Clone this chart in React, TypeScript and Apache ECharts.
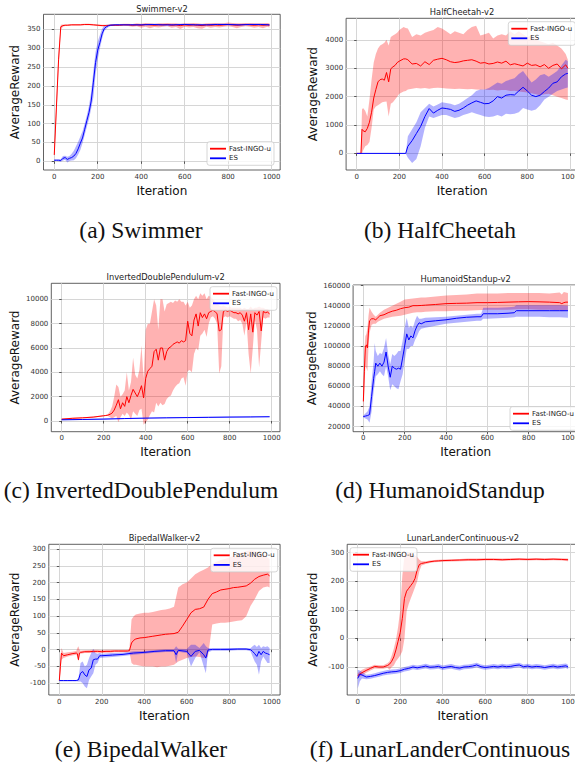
import React, { useEffect, useRef } from "react";
import * as echarts from "echarts";

// ---------------- tick labels ----------------
const X_TICKS = [0, 200, 400, 600, 800, 1000];
const aYTicks = [0, 50, 100, 150, 200, 250, 300, 350];
const bYTicks = [0, 1000, 2000, 3000, 4000];
const cYTicks = [0, 2000, 4000, 6000, 8000, 10000];
const dYTicks = [20000, 40000, 60000, 80000, 100000, 120000, 140000, 160000];
const eYTicks = [-100, -50, 0, 50, 100, 150, 200, 250, 300];
const fYTicks = [-100, 0, 100, 200, 300];

const titles = [
  "Swimmer-v2",
  "HalfCheetah-v2",
  "InvertedDoublePendulum-v2",
  "HumanoidStandup-v2",
  "BipedalWalker-v2",
  "LunarLanderContinuous-v2",
];
const captions = [
  "(a) Swimmer",
  "(b) HalfCheetah",
  "(c) InvertedDoublePendulum",
  "(d) HumanoidStandup",
  "(e) BipedalWalker",
  "(f) LunarLanderContinuous",
];
const seriesNames = ["Fast-INGO-u", "ES"];

// ---------------- (a) Swimmer ----------------
const aRedIter = [0, 10, 20, 30, 40, 50, 60, 80, 100, 120, 140, 160, 180, 200, 220, 240, 260, 280, 300, 320, 340, 360, 380, 400, 420, 440, 460, 480, 500, 520, 540, 560, 580, 600, 620, 640, 660, 680, 700, 720, 740, 760, 780, 800, 820, 840, 860, 880, 900, 920, 940, 960, 980, 990];
const aRedMean = [17, 144, 271, 357, 360, 361, 361, 362, 362, 362, 363, 363, 362, 361, 360, 360, 361, 361, 361, 362, 362, 361, 362, 361, 363, 362, 361, 362, 362, 363, 361, 362, 360, 362, 361, 362, 361, 360, 362, 361, 362, 361, 362, 363, 362, 361, 362, 363, 362, 361, 362, 361, 362, 361];
const aRedLo = [8, 120, 250, 350, 357, 359, 359, 360, 360, 360, 361, 361, 360, 359, 358, 358, 359, 359, 359, 360, 359, 357, 358, 354, 357, 353, 356, 355, 357, 358, 354, 356, 351, 357, 355, 356, 353, 352, 357, 354, 356, 355, 357, 358, 356, 353, 356, 358, 357, 354, 356, 353, 357, 355];
const aRedHi = [25, 170, 290, 362, 363, 363, 363, 364, 364, 364, 365, 365, 364, 363, 362, 362, 363, 363, 364, 365, 365, 364, 366, 365, 367, 366, 365, 366, 366, 367, 366, 366, 365, 366, 366, 367, 366, 365, 366, 366, 367, 366, 366, 368, 367, 366, 366, 367, 367, 366, 366, 366, 367, 366];
const aBlueIter = [0, 10, 20, 30, 40, 50, 60, 70, 80, 90, 100, 110, 120, 130, 140, 150, 160, 170, 180, 190, 200, 210, 220, 230, 240, 250, 260, 280, 300, 350, 400, 450, 500, 550, 600, 650, 700, 750, 800, 850, 900, 950, 990];
const aBlueMean = [3, 3, 3, 2, 8, 10, 5, 8, 10, 14, 21, 33, 48, 62, 85, 108, 130, 160, 210, 262, 295, 315, 338, 352, 357, 360, 361, 362, 362, 362, 362, 363, 362, 362, 363, 362, 362, 363, 363, 362, 363, 363, 362];
const aBlueLo = [1, 1, 0, -1, 2, 4, -3, 1, 2, 3, 8, 18, 30, 48, 70, 92, 112, 140, 170, 230, 270, 300, 325, 345, 352, 356, 359, 360, 360, 360, 360, 361, 360, 360, 361, 360, 360, 361, 361, 360, 361, 361, 360];
const aBlueHi = [5, 5, 5, 6, 14, 15, 12, 14, 20, 28, 40, 52, 66, 80, 100, 122, 148, 185, 240, 290, 318, 335, 352, 360, 362, 363, 364, 364, 364, 364, 364, 365, 364, 364, 365, 364, 364, 365, 365, 364, 365, 365, 364];

// ---------------- (b) HalfCheetah ----------------
const bRedIter = [0, 10, 20, 25, 30, 40, 50, 60, 70, 80, 90, 100, 110, 120, 130, 140, 150, 160, 170, 180, 190, 200, 220, 230, 240, 260, 280, 300, 320, 340, 360, 380, 400, 420, 440, 460, 480, 500, 520, 540, 560, 580, 600, 620, 640, 660, 680, 700, 720, 740, 760, 780, 800, 820, 840, 860, 880, 900, 920, 940, 960, 980, 990];
const bRedMean = [0, 0, 0, 850, 800, 760, 880, 1100, 1450, 1950, 2250, 2520, 2600, 2620, 2580, 2850, 2520, 2980, 3050, 3100, 3200, 3250, 3330, 3330, 3300, 3150, 3170, 3080, 3230, 3130, 3280, 3320, 3350, 3300, 3230, 3200, 3220, 3260, 3280, 3300, 3250, 3180, 3200, 3150, 3170, 3220, 3180, 3250, 3120, 3160, 3120, 3080, 3180, 3100, 3120, 3050, 3130, 3000, 3100, 3150, 2980, 3120, 3000];
const bRedLo = [0, 0, 0, 0, 100, 250, 300, 400, 900, 1550, 1650, 1700, 1750, 1800, 1820, 1830, 1300, 1750, 1800, 1900, 2000, 2100, 2180, 2200, 2250, 2280, 2300, 2290, 2300, 2280, 2300, 2310, 2300, 2290, 2280, 2270, 2280, 2270, 2260, 2270, 2250, 2240, 2250, 2230, 2240, 2220, 2230, 2230, 2200, 2210, 2180, 2160, 2150, 2120, 2080, 2050, 2080, 2100, 2050, 2000, 1950, 1900, 1880];
const bRedHi = [0, 0, 0, 1550, 1600, 1500, 1300, 1900, 2600, 3200, 3500, 3700, 3800, 3850, 3900, 4000, 3800, 4100, 4150, 4200, 4250, 4350, 4450, 4420, 4400, 4100, 4200, 4150, 4250, 4300, 4350, 4450, 4400, 4300, 4200, 4300, 4250, 4200, 4350, 4450, 4500, 4150, 4200, 4250, 4050, 4150, 4200, 4150, 4300, 4200, 4300, 4200, 4100, 4150, 4000, 3950, 3900, 3850, 3900, 3800, 3700, 3500, 3300];
const bBlueIter = [0, 230, 240, 260, 280, 300, 320, 340, 360, 380, 400, 420, 440, 460, 480, 500, 520, 540, 560, 580, 600, 620, 640, 660, 680, 700, 720, 740, 760, 780, 800, 820, 840, 860, 880, 900, 920, 940, 960, 980, 990];
const bBlueMean = [0, 0, 250, 450, 700, 950, 1300, 1580, 1420, 1520, 1600, 1580, 1550, 1480, 1520, 1600, 1700, 1780, 1850, 1800, 1750, 1760, 1850, 2000, 1950, 2050, 2070, 2060, 2200, 2330, 2200, 2050, 2000, 2050, 2180, 2300, 2470, 2520, 2700, 2800, 2820];
const bBlueLo = [0, 0, -150, -340, -200, 250, 900, 1300, 1250, 1300, 1350, 1350, 1300, 1250, 1280, 1350, 1400, 1450, 1400, 1350, 1300, 1280, 1300, 1350, 1300, 1400, 1380, 1400, 1450, 1600, 1550, 1500, 1550, 1700, 1900, 2000, 2100, 2200, 2250, 2300, 2320];
const bBlueHi = [0, 0, 600, 850, 1100, 1450, 1600, 1750, 1650, 1720, 1800, 1780, 1750, 1700, 1750, 1850, 1950, 2050, 2200, 2250, 2250, 2300, 2400, 2500, 2450, 2550, 2600, 2650, 2800, 2900, 2700, 2500, 2600, 2750, 2800, 2700, 2800, 2900, 3100, 3300, 3250];

// ---------------- (c) InvertedDoublePendulum ----------------
const cRedIter = [0, 50, 100, 150, 200, 210, 220, 230, 240, 250, 260, 270, 280, 290, 300, 310, 320, 330, 340, 350, 360, 370, 380, 390, 400, 410, 420, 430, 440, 450, 460, 470, 480, 490, 500, 510, 520, 530, 540, 550, 560, 570, 580, 590, 600, 610, 620, 630, 640, 650, 660, 670, 680, 690, 700, 710, 720, 730, 740, 750, 760, 770, 780, 790, 800, 810, 820, 830, 840, 850, 860, 870, 880, 890, 900, 910, 920, 930, 940, 950, 960, 970, 980, 990];
const cRedMean = [150, 220, 260, 320,
  430, 450, 480, 550, 650, 900, 1300, 1750, 1000, 1500,
  1200, 2000, 1500, 2100, 2600, 2300, 2000, 2400, 2900, 1900,
  3500, 4100, 4300, 4500, 5700, 5900, 5000, 6000, 6000, 5000,
  5700, 6000, 6100, 6300, 6400, 6500, 6400, 6600, 6500, 6600,
  8200, 7200, 7000, 8300, 8800, 7800, 8900, 8500, 8800, 8400,
  8900, 9000, 9100, 9000, 8800, 7400, 7500, 9000, 9100, 9000,
  9100, 9000, 8900, 8900, 8800, 8900, 8700, 8200, 8900, 7500,
  8800, 7300, 8900, 8700, 9000, 7400, 9000, 8900, 8950, 8800];
const cRedLo = [100, 180, 220, 270,
  380, 400, 420, 300, 200, 300, 400, -100, 300, 600,
  400, 700, 500, 100, 800, 600, 400, 900, 1000, -300,
  -100, 100, 500, 800, 700, 1500, 1200, 1500, 1300, 1400,
  1800, 2000, 2100, 2500, 2800, 3000, 3100, 3500, 3600, 2900,
  4100, 4200, 4000, 5500, 6000, 5800, 7000, 7200, 7500, 6900,
  8000, 8500, 8600, 8400, 8000, 3900, 4500, 8500, 8600, 8500,
  8600, 8500, 8400, 8400, 8200, 8300, 8000, 7000, 8200, 5500,
  3900, 6000, 8300, 7500, 4400, 6500, 8500, 8400, 8500, 8500];
const cRedHi = [200, 260, 300, 370,
  480, 500, 560, 800, 1200, 2000, 3000, 2800, 2000, 2200,
  2500, 4000, 2500, 3200, 5200, 3800, 3500, 4200, 6200, 3500,
  7500, 8000, 8000, 9000, 10000, 9500, 7500, 10000, 10000, 9000,
  9600, 9700, 9800, 9700, 9900, 9800, 10000, 9800, 9800, 9500,
  9800, 9300, 9500, 10000, 10300, 10000, 10500, 10300, 10500, 10000,
  10300, 10200, 10000, 9800, 9700, 9500, 9400, 9500, 9400, 9300,
  9400, 9300, 9300, 9300, 9300, 9300, 9200, 9300, 9200, 9200,
  9400, 9200, 9300, 9300, 9400, 9300, 9300, 9200, 9200, 9100];
const cBlueIter = [0, 100, 200, 300, 400, 500, 600, 700, 800, 900, 990];
const cBlueMean = [100, 125, 155, 200, 235, 260, 280, 300, 320, 335, 350];
const cBlueLo = [60, 85, 115, 160, 195, 220, 240, 260, 280, 295, 310];
const cBlueHi = [140, 165, 195, 240, 275, 300, 320, 340, 360, 375, 390];

// ---------------- (d) HumanoidStandup ----------------
const dRedIter = [0, 5, 10, 15, 20, 25, 30, 40, 50, 60, 70, 80, 90, 100, 120, 140, 160, 180, 200, 220, 240, 260, 280, 300, 350, 400, 450, 500, 550, 600, 650, 700, 750, 800, 850, 900, 950, 960, 970, 980, 990];
const dRedMean = [45000, 75000, 100000, 101000, 98000, 115000, 125000, 127000, 127000, 126000, 128000, 130000, 130500, 131000, 133000, 134500, 135500, 137000, 138000, 138500, 140000, 140000, 140200, 140500, 141200, 142000, 142300, 142500, 143000, 143000, 143200, 143500, 143800, 144000, 143800, 143500, 143000, 142000, 143000, 143500, 143500];
const dRedLo = [28000, 55000, 80000, 78000, 75000, 100000, 113000, 121000, 122000, 122000, 124000, 125000, 126000, 127000, 128000, 129000, 129500, 130000, 131000, 132000, 133000, 133500, 133500, 134000, 134500, 134500, 135000, 135000, 135500, 136000, 136000, 136000, 136500, 136500, 136000, 136000, 135500, 134500, 135000, 135500, 135500];
const dRedHi = [60000, 95000, 110000, 112000, 118000, 130000, 138000, 134000, 131000, 129000, 131000, 133000, 134500, 136000, 138000, 140000, 142000, 144000, 146000, 146500, 147000, 147500, 148000, 148000, 149000, 150000, 150500, 151000, 152000, 152000, 152000, 152500, 152500, 152500, 152500, 152000, 153000, 151000, 153500, 153000, 152500];
const dBlueIter = [0, 10, 20, 30, 40, 50, 55, 60, 70, 80, 90, 100, 110, 120, 130, 140, 150, 160, 170, 180, 190, 200, 210, 220, 230, 240, 250, 260, 270, 280, 300, 350, 400, 450, 500, 550, 570, 580, 600, 650, 700, 730, 740, 800, 850, 900, 950, 990];
const dBlueMean = [30000, 30500, 31000, 32000, 50000, 68000, 75000, 83000, 80000, 83000, 80000, 84000, 94000, 80000, 69000, 80000, 78000, 77000, 78000, 77000, 88000, 100000, 112000, 106000, 110000, 108000, 115000, 120000, 123000, 122000, 124000, 125000, 126000, 127500, 128500, 129000, 129000, 132000, 132000, 132000, 132500, 133000, 135000, 135000, 135000, 135000, 135000, 135000];
const dBlueLo = [29000, 28000, 27000, 24000, 35000, 55000, 62000, 70000, 72000, 75000, 72000, 70000, 80000, 70000, 56000, 62000, 60000, 58000, 57000, 65000, 72000, 85000, 97000, 97000, 100000, 100000, 106000, 110000, 115000, 117000, 118000, 120000, 122000, 123000, 124000, 125000, 125000, 127000, 127000, 127500, 128000, 128500, 129000, 129000, 129000, 128500, 128500, 128000];
const dBlueHi = [31000, 33000, 35000, 40000, 65000, 85000, 103000, 95000, 90000, 93000, 92000, 98000, 108000, 92000, 82000, 92000, 90000, 92000, 95000, 95000, 105000, 118000, 128000, 118000, 120000, 118000, 125000, 130000, 127000, 127000, 128000, 128500, 129000, 130000, 131000, 132000, 132000, 138000, 138000, 138000, 138500, 139000, 140500, 140500, 140500, 140500, 140500, 140000];

// ---------------- (e) BipedalWalker ----------------
const eRedIter = [0, 5, 10, 20, 40, 60, 80, 85, 90, 95, 100, 120, 140, 160, 180, 200, 220, 240, 260, 280, 300, 320, 330, 340, 350, 360, 380, 400, 420, 440, 460, 480, 500, 520, 540, 560, 580, 600, 620, 640, 660, 680, 700, 720, 740, 760, 780, 800, 820, 840, 860, 880, 900, 920, 940, 960, 980, 990];
const eRedMean = [-92, -50, -10, -18, -15, -12, -10, -12, -30, -10, -8, -6, -6, -5, -5, -6, -5, -5, -4, -4, -4, -4, -3, 20, 28, 32, 35, 36, 38, 40, 42, 44, 46, 47, 48, 52, 70, 90, 110, 120, 122, 127, 150, 167, 172, 178, 180, 182, 185, 186, 188, 190, 198, 210, 218, 222, 225, 220];
const eRedLo = [-95, -70, -30, -25, -20, -17, -15, -20, -35, -15, -12, -10, -10, -9, -9, -10, -9, -9, -8, -8, -8, -8, -7, -40, -45, -45, -48, -50, -50, -50, -52, -50, -50, -48, -45, -35, -30, -25, -22, -20, -22, -25, -20, 75, 78, 80, 80, 82, 84, 86, 88, 100, 130, 150, 175, 185, 188, 185];
const eRedHi = [-88, -30, 5, -10, -8, -6, -4, 5, 10, 0, -3, -2, -1, 0, 0, -1, 0, 0, 0, 0, 0, 0, 2, 90, 100, 105, 108, 110, 110, 112, 115, 118, 120, 123, 128, 185, 195, 200, 212, 225, 232, 238, 245, 255, 262, 267, 270, 275, 280, 285, 290, 293, 296, 295, 290, 285, 275, 270];
const eBlueIter = [0, 20, 40, 60, 80, 90, 100, 110, 120, 130, 140, 150, 160, 170, 180, 190, 200, 250, 300, 350, 400, 450, 500, 540, 550, 560, 600, 620, 640, 660, 680, 690, 700, 720, 760, 800, 840, 880, 900, 910, 920, 930, 940, 950, 960, 970, 980, 990];
const eBlueMean = [-92, -92, -92, -92, -92, -90, -70, -65, -75, -80, -60, -55, -30, -28, -28, -18, -18, -16, -14, -10, -8, -5, -3, -3, -15, -2, -5, -20, -5, -2, -15, -25, -1, 1, 1, 1, 2, 2, 0, -5, -12, -20, -5, -15, -5, -10, -12, -15];
const eBlueLo = [-94, -94, -94, -94, -94, -95, -95, -100, -110, -115, -90, -80, -70, -45, -40, -25, -24, -22, -19, -15, -12, -9, -7, -7, -40, -6, -10, -50, -25, -8, -50, -70, -8, -3, -3, -3, -2, -2, -5, -20, -35, -45, -75, -35, -20, -30, -40, -40];
const eBlueHi = [-90, -90, -90, -90, -90, -85, -40, -35, -50, -45, -25, -10, 3, -10, -12, -10, -12, -10, -9, -5, -4, -1, 1, 1, 10, 3, 2, 15, 15, 5, 20, 10, 5, 4, 4, 5, 5, 5, 4, 10, 15, 8, 15, 5, 10, 8, 10, 5];

// ---------------- (f) LunarLanderContinuous ----------------
const fRedIter = [0, 20, 40, 60, 80, 100, 120, 140, 150, 160, 170, 180, 190, 200, 210, 220, 230, 240, 250, 260, 270, 280, 290, 300, 320, 340, 360, 380, 400, 440, 480, 520, 560, 600, 640, 680, 720, 760, 800, 840, 880, 920, 960, 990];
const fRedMean = [-130, -120, -112, -105, -98, -100, -100, -95, -90, -80, -65, -40, -10, 20, 70, 140, 165, 175, 185, 195, 210, 240, 258, 262, 265, 268, 270, 271, 272, 273, 274, 275, 275, 276, 276, 275, 276, 277, 276, 277, 276, 277, 276, 275];
const fRedLo = [-138, -130, -120, -112, -105, -106, -106, -103, -110, -100, -95, -80, -70, -60, -45, 0, 95, 120, 140, 160, 180, 200, 235, 255, 260, 264, 266, 267, 268, 269, 270, 271, 271, 272, 272, 271, 272, 273, 272, 273, 272, 273, 272, 270];
const fRedHi = [-122, -110, -104, -98, -92, -94, -94, -87, -80, -60, -35, -5, 40, 100, 220, 290, 300, 300, 298, 296, 290, 285, 275, 270, 270, 272, 274, 275, 276, 277, 278, 279, 279, 280, 280, 279, 280, 281, 280, 281, 280, 281, 280, 279];
const fBlueIter = [0, 10, 20, 40, 60, 80, 100, 120, 140, 160, 180, 200, 220, 240, 260, 280, 300, 320, 340, 360, 380, 400, 420, 440, 460, 480, 500, 520, 540, 560, 580, 600, 620, 640, 660, 680, 700, 720, 740, 760, 780, 800, 820, 840, 860, 880, 900, 920, 940, 960, 980, 990];
const fBlueMean = [-140, -125, -128, -135, -133, -130, -126, -122, -119, -117, -116, -113, -108, -105, -100, -103, -100, -97, -101, -100, -98, -103, -100, -98, -102, -104, -100, -99, -97, -93, -99, -102, -100, -98, -100, -97, -99, -98, -95, -93, -99, -97, -100, -98, -99, -102, -99, -97, -100, -98, -96, -100];
const fBlueLo = [-175, -150, -140, -143, -141, -138, -134, -130, -127, -125, -124, -121, -116, -113, -108, -111, -108, -105, -109, -108, -106, -111, -108, -106, -110, -112, -108, -107, -105, -101, -107, -110, -108, -106, -108, -105, -107, -106, -103, -101, -107, -105, -108, -106, -107, -110, -107, -105, -108, -106, -104, -108];
const fBlueHi = [-110, -112, -118, -127, -125, -122, -118, -114, -111, -109, -108, -105, -100, -97, -92, -95, -92, -89, -93, -92, -90, -95, -92, -90, -94, -96, -92, -91, -89, -85, -91, -94, -92, -90, -92, -89, -91, -90, -87, -85, -91, -89, -92, -90, -91, -94, -91, -89, -92, -90, -88, -92];

// ---------------- layout & styling ----------------
const FONT = '"DejaVu Sans", sans-serif';
const SERIF = '"Liberation Serif", "DejaVu Serif", serif';
const RED = "#ff0000";
const BLUE = "#0000ff";
const RED_BAND = "rgba(255,0,0,0.3)";
const BLUE_BAND = "rgba(0,0,255,0.3)";

const panels = [
  { red: [aRedIter, aRedMean, aRedLo, aRedHi], blue: [aBlueIter, aBlueMean, aBlueLo, aBlueHi], yTicks: aYTicks, yMin: -23, yMax: 390,
    grid: { left: 43.5, top: 14.3, width: 236.7, height: 155.7 }, legend: { left: 207, top: 141.7 },
    titlePos: [162, 9], capPos: [141, 229.5], xGap: 15, yGap: 22.5 },
  { red: [bRedIter, bRedMean, bRedLo, bRedHi], blue: [bBlueIter, bBlueMean, bBlueLo, bBlueHi], yTicks: bYTicks, yMin: -585, yMax: 4760,
    grid: { left: 346.1, top: 18.3, width: 232.3, height: 151.7 }, legend: { left: 508.3, top: 21.7 },
    titlePos: [462, 11.5], capPos: [440, 229.5], xGap: 15, yGap: 26.8 },
  { red: [cRedIter, cRedMean, cRedLo, cRedHi], blue: [cBlueIter, cBlueMean, cBlueLo, cBlueHi], yTicks: cYTicks, yMin: -880, yMax: 11315,
    grid: { left: 51.3, top: 283.3, width: 228.7, height: 148.4 }, legend: { left: 210, top: 286.7 },
    titlePos: [165.6, 276.7], capPos: [141, 489.5], xGap: 14, yGap: 30.3 },
  { red: [dRedIter, dRedMean, dRedLo, dRedHi], blue: [dBlueIter, dBlueMean, dBlueLo, dBlueHi], yTicks: dYTicks, yMin: 15000, yMax: 160500,
    grid: { left: 353.1, top: 285, width: 225.1, height: 146.7 }, legend: { left: 510, top: 406.7 },
    titlePos: [465.6, 279], capPos: [440, 489.5], xGap: 14, yGap: 34.8 },
  { red: [eRedIter, eRedMean, eRedLo, eRedHi], blue: [eBlueIter, eBlueMean, eBlueLo, eBlueHi], yTicks: eYTicks, yMin: -135, yMax: 314,
    grid: { left: 48.8, top: 544.3, width: 231.3, height: 150.7 }, legend: { left: 210.7, top: 548.3 },
    titlePos: [164.4, 537.7], capPos: [141, 749], xGap: 15, yGap: 28 },
  { red: [fRedIter, fRedMean, fRedLo, fRedHi], blue: [fBlueIter, fBlueMean, fBlueLo, fBlueHi], yTicks: fYTicks, yMin: -198, yMax: 329,
    grid: { left: 347.2, top: 544.3, width: 231.4, height: 150.7 }, legend: { left: 350, top: 547.7 },
    titlePos: [462.9, 537.7], capPos: [440, 749], xGap: 15, yGap: 28 },
];

function pairs(xs: number[], ys: number[]) {
  return xs.map((x, k) => [x, ys[k]]);
}

function bandSeries(i: number, it: number[], lo: number[], hi: number[], fill: string) {
  return {
    type: "custom",
    xAxisIndex: i,
    yAxisIndex: i,
    silent: true,
    z: 1,
    animation: false,
    data: it.map((x, k) => [x, lo[k], hi[k]]),
    encode: { x: 0, y: [1, 2] },
    renderItem: (params: any, api: any) => {
      if (params.dataIndex !== 0) return null;
      const pts: number[][] = [];
      for (let k = 0; k < it.length; k++) pts.push(api.coord([it[k], hi[k]]));
      for (let k = it.length - 1; k >= 0; k--) pts.push(api.coord([it[k], lo[k]]));
      return { type: "polygon", shape: { points: pts }, style: { fill, stroke: "none" }, silent: true };
    },
  };
}

const plainNum = (v: number) => String(v);

function buildOption() {
  const grid: any[] = [];
  const xAxis: any[] = [];
  const yAxis: any[] = [];
  const series: any[] = [];
  const legend: any[] = [];
  const graphic: any[] = [];

  panels.forEach((p, i) => {
    grid.push({
      ...p.grid,
      show: true,
      borderColor: "#3a3a3a",
      borderWidth: 0.8,
      backgroundColor: "transparent",
      containLabel: false,
      outerBoundsMode: "none",
    });
    xAxis.push({
      type: "value",
      gridIndex: i,
      min: -49.5,
      max: 1039.5,
      axisLine: { show: false },
      axisTick: { show: true, customValues: X_TICKS, length: 2.5, lineStyle: { color: "#333", width: 0.8 } },
      axisLabel: { customValues: X_TICKS, formatter: plainNum, fontSize: 7, color: "#333", fontFamily: FONT, margin: 3 },
      splitLine: { show: true, lineStyle: { color: "#d6d6d6", width: 1 } },
      name: "Iteration",
      nameLocation: "middle",
      nameGap: p.xGap,
      nameMoveOverlap: false,
      nameTextStyle: { fontSize: 12, fontFamily: FONT, color: "#111" },
    });
    yAxis.push({
      type: "value",
      gridIndex: i,
      min: p.yMin,
      max: p.yMax,
      axisLine: { show: false },
      axisTick: { show: true, customValues: p.yTicks, length: 2.5, lineStyle: { color: "#333", width: 0.8 } },
      axisLabel: { customValues: p.yTicks, formatter: plainNum, fontSize: 7, color: "#333", fontFamily: FONT, margin: 3 },
      splitLine: { show: true, lineStyle: { color: "#d6d6d6", width: 1 } },
      name: "AverageReward",
      nameLocation: "middle",
      nameGap: p.yGap,
      nameMoveOverlap: false,
      nameTextStyle: { fontSize: 12, fontFamily: FONT, color: "#111" },
    });

    series.push(bandSeries(i, p.red[0], p.red[2], p.red[3], RED_BAND));
    series.push(bandSeries(i, p.blue[0], p.blue[2], p.blue[3], BLUE_BAND));

    const common = {
      type: "line",
      xAxisIndex: i,
      yAxisIndex: i,
      symbol: "none",
      showSymbol: false,
      silent: true,
      animation: false,
      z: 3,
    };
    series.push({
      ...common,
      name: seriesNames[0],
      color: RED,
      itemStyle: { color: RED },
      lineStyle: { color: RED, width: 1 },
      data: pairs(p.red[0], p.red[1]),
    });
    series.push({
      ...common,
      name: seriesNames[1],
      color: BLUE,
      itemStyle: { color: BLUE },
      lineStyle: { color: BLUE, width: 1 },
      data: pairs(p.blue[0], p.blue[1]),
    });

    legend.push({
      data: seriesNames,
      left: p.legend.left,
      top: p.legend.top,
      orient: "vertical",
      icon: "rect",
      itemWidth: 16,
      itemHeight: 1.8,
      itemGap: 1.6,
      padding: [3, 3, 3, 3],
      selectedMode: false,
      backgroundColor: "rgba(255,255,255,0.8)",
      borderColor: "#cccccc",
      borderWidth: 0.8,
      borderRadius: 2.5,
      textStyle: { fontSize: 7, fontFamily: FONT, color: "#222", lineHeight: 8, padding: [0, 0, 0, -2] },
    });

    graphic.push({
      type: "text",
      x: p.titlePos[0],
      y: p.titlePos[1],
      style: {
        text: titles[i],
        fontSize: 8.3,
        fontFamily: FONT,
        fill: "#222",
        align: "center",
        verticalAlign: "middle",
        textAlign: "center",
        textVerticalAlign: "middle",
      },
    });
    graphic.push({
      type: "text",
      x: p.capPos[0],
      y: p.capPos[1],
      style: {
        text: captions[i],
        fontSize: 23.5,
        fontFamily: SERIF,
        fill: "#111",
        align: "center",
        verticalAlign: "middle",
        textAlign: "center",
        textVerticalAlign: "middle",
      },
    });
  });

  return {
    animation: false,
    backgroundColor: "#ffffff",
    grid,
    xAxis,
    yAxis,
    series,
    legend,
    graphic,
  };
}

export default function App() {
  const ref = useRef<HTMLDivElement>(null);
  useEffect(() => {
    if (!ref.current) return;
    const chart = echarts.init(ref.current, undefined, { renderer: "svg" });
    chart.setOption(buildOption() as any);
    return () => chart.dispose();
  }, []);
  return (
    <div
      ref={ref}
      style={{ position: "fixed", left: 0, top: 0, width: 575, height: 763, background: "#fff" }}
    />
  );
}
